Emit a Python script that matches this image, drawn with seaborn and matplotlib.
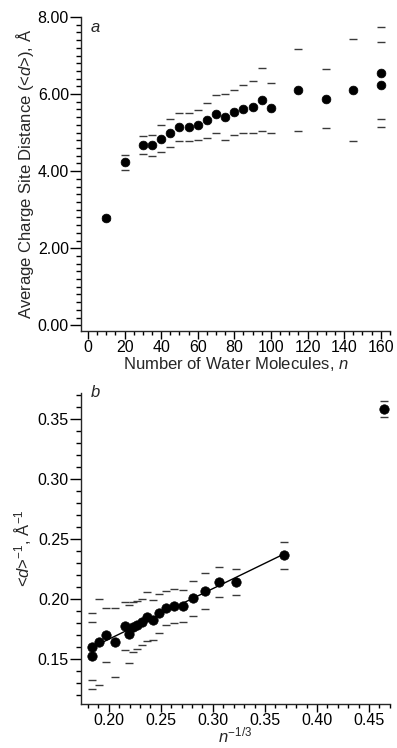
import numpy as np
import pandas as pd
import matplotlib
matplotlib.use("Agg")
import matplotlib.pyplot as plt
from matplotlib.ticker import MultipleLocator, FormatStrFormatter
import seaborn as sns

# ---- data ----
n_waters = [10, 20, 30, 35, 40, 45, 50, 55, 60, 65, 70, 75, 80, 85, 90, 95, 100,
            115, 130, 145, 160, 160]
avg_dist = [2.79, 4.23, 4.67, 4.67, 4.84, 4.99, 5.15, 5.15, 5.20, 5.32, 5.48, 5.40,
            5.53, 5.61, 5.67, 5.85, 5.64, 6.10, 5.88, 6.10, 6.55, 6.24]
dist_err = [0.05, 0.20, 0.23, 0.27, 0.35, 0.36, 0.36, 0.37, 0.38, 0.46, 0.50, 0.60,
            0.58, 0.62, 0.67, 0.82, 0.64, 1.07, 0.77, 1.33, 1.20, 1.10]

top_xticks = [0, 20, 40, 60, 80, 100, 120, 140, 160]
top_yticks = [0.00, 2.00, 4.00, 6.00, 8.00]
bot_xticks = [0.20, 0.25, 0.30, 0.35, 0.40, 0.45]
bot_yticks = [0.15, 0.20, 0.25, 0.30, 0.35]

df = pd.DataFrame({"n": n_waters, "d": avg_dist, "err": dist_err})
df["x_inv"] = df["n"] ** (-1.0 / 3.0)          # n^(-1/3)
df["y_inv"] = 1.0 / df["d"]                      # <d>^-1
df["y_inv_err"] = df["err"] / df["d"] ** 2       # propagated error
fit_df = df[df["n"] > 10]

# ---- style ----
sns.set_theme(style="ticks")
plt.rcParams["font.family"] = ["Liberation Sans", "DejaVu Sans"]
plt.rcParams["mathtext.fontset"] = "custom"
plt.rcParams["mathtext.rm"] = "Liberation Sans"
plt.rcParams["mathtext.it"] = "Liberation Sans:italic"
plt.rcParams["axes.linewidth"] = 1.0
plt.rcParams["xtick.major.size"] = 5.5
plt.rcParams["ytick.major.size"] = 8
plt.rcParams["xtick.minor.size"] = 3.0
plt.rcParams["ytick.minor.size"] = 3.3
plt.rcParams["xtick.major.width"] = 1.0
plt.rcParams["ytick.major.width"] = 1.0
plt.rcParams["xtick.minor.width"] = 1.0
plt.rcParams["ytick.minor.width"] = 1.0
plt.rcParams["xtick.major.pad"] = 1.0
plt.rcParams["ytick.major.pad"] = 1.0

FS = 12
TFS = 11.5
fig = plt.figure(figsize=(3.97, 7.48), dpi=100)
ax1 = fig.add_axes([0.205, 0.5575, 0.777, 0.4198])
ax2 = fig.add_axes([0.205, 0.0590, 0.777, 0.4156])

cap_color = "#3a3a3a"

# ---- panel a ----
eb = ax1.errorbar(df["n"], df["d"], yerr=df["err"], fmt="none", ecolor=cap_color,
                  capsize=2.6, capthick=1.0, elinewidth=1.0, zorder=2)
for c in eb[2]:
    c.set_visible(False)
sns.scatterplot(data=df, x="n", y="d", ax=ax1, color="black", s=40,
                edgecolor="black", linewidth=0.5, zorder=3, legend=False)

ax1.set_xlim(-3.6, 165)
ax1.set_ylim(-0.148, 8.0)
ax1.set_xticks(top_xticks)
ax1.set_yticks(top_yticks)
ax1.xaxis.set_minor_locator(MultipleLocator(5))
ax1.yaxis.set_minor_locator(MultipleLocator(0.2))
ax1.yaxis.set_major_formatter(FormatStrFormatter("%.2f"))
ax1.spines["top"].set_visible(False)
ax1.spines["right"].set_visible(False)
ax1.tick_params(labelsize=TFS, colors="black", which="both")
ax1.set_xlabel(r"Number of Water Molecules, $\mathit{n}$", fontsize=FS, labelpad=0)
ax1.set_ylabel(r"Average Charge Site Distance (<$\mathit{d}$>), Å", fontsize=FS,
               labelpad=1)
ax1.text(0.045, 0.965, "a", transform=ax1.transAxes, fontsize=FS, style="italic",
         ha="center", va="center")

# ---- panel b ----
eb2 = ax2.errorbar(df["x_inv"], df["y_inv"], yerr=df["y_inv_err"], fmt="none",
                   ecolor=cap_color, capsize=3.0, capthick=1.0, elinewidth=1.0, zorder=2)
for c in eb2[2]:
    c.set_visible(False)
sns.regplot(data=fit_df, x="x_inv", y="y_inv", ax=ax2, scatter=False, ci=None,
            truncate=True, line_kws={"color": "black", "lw": 1.0, "zorder": 2})
sns.scatterplot(data=df, x="x_inv", y="y_inv", ax=ax2, color="black", s=46,
                edgecolor="black", linewidth=0.5, zorder=3, legend=False)

ax2.set_xlim(0.1737, 0.470)
ax2.set_ylim(0.1125, 0.3717)
ax2.set_xticks(bot_xticks)
ax2.set_yticks(bot_yticks)
ax2.xaxis.set_minor_locator(MultipleLocator(0.01))
ax2.yaxis.set_minor_locator(MultipleLocator(0.01))
ax2.xaxis.set_major_formatter(FormatStrFormatter("%.2f"))
ax2.yaxis.set_major_formatter(FormatStrFormatter("%.2f"))
ax2.spines["top"].set_visible(False)
ax2.spines["right"].set_visible(False)
ax2.tick_params(labelsize=TFS, colors="black", which="both")
ax2.set_xlabel(r"$\mathit{n}^{-1/3}$", fontsize=FS, labelpad=-2)
ax2.set_ylabel(r"<$\mathit{d}$>$^{-1}$, Å$^{-1}$", fontsize=FS, labelpad=3)
ax2.text(0.045, 1.0, "b", transform=ax2.transAxes, fontsize=FS, style="italic",
         ha="center", va="center")

fig.savefig("out.png", dpi=100)
